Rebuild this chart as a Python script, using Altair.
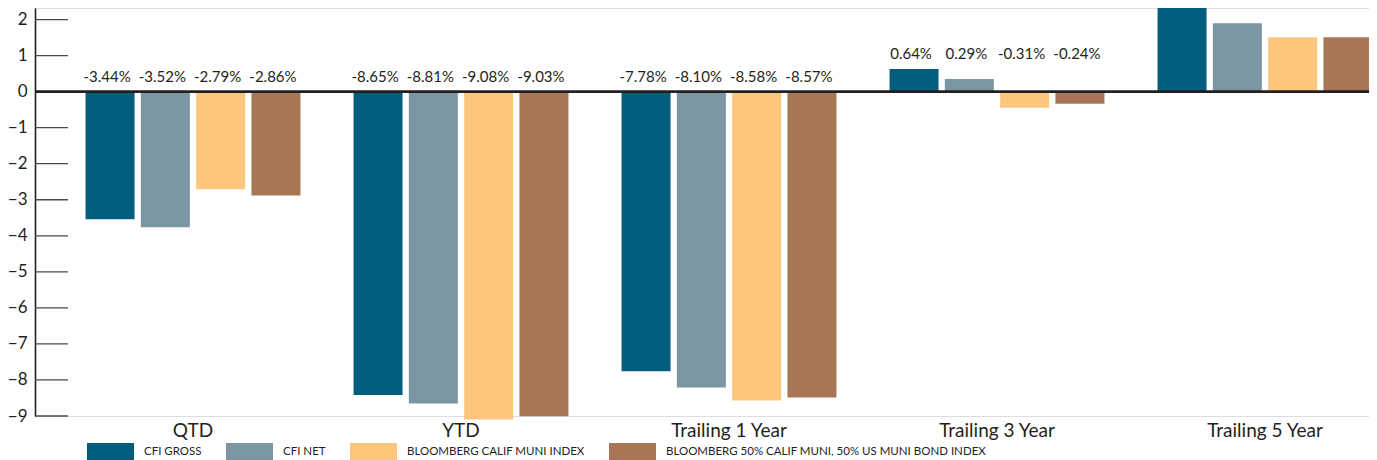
import altair as alt
import pandas as pd

categories = ["QTD", "YTD", "Trailing 1 Year", "Trailing 3 Year", "Trailing 5 Year"]
series = [
    "CFI GROSS",
    "CFI NET",
    "BLOOMBERG CALIF MUNI INDEX",
    "BLOOMBERG 50% CALIF MUNI, 50% US MUNI BOND INDEX",
]
# bar heights as drawn in the reference
cfi_gross = [-3.54, -8.42, -7.76, 0.63, 2.35]
cfi_net = [-3.76, -8.65, -8.21, 0.35, 1.90]
calif_muni = [-2.71, -9.10, -8.57, -0.45, 1.51]
mix_muni = [-2.88, -9.01, -8.49, -0.34, 1.51]
# printed labels
labels_gross = ["-3.44%", "-8.65%", "-7.78%", "0.64%", "2.26%"]
labels_net = ["-3.52%", "-8.81%", "-8.10%", "0.29%", "1.82%"]
labels_calif = ["-2.79%", "-9.08%", "-8.58%", "-0.31%", "1.42%"]
labels_mix = ["-2.86%", "-9.03%", "-8.57%", "-0.24%", "1.47%"]
colors = ["#025e7c", "#7996a2", "#fcc77c", "#a87555"]
y_ticks = [-9, -8, -7, -6, -5, -4, -3, -2, -1, 0, 1, 2]

rows = []
for s, vals, labs in zip(series,
                         [cfi_gross, cfi_net, calif_muni, mix_muni],
                         [labels_gross, labels_net, labels_calif, labels_mix]):
    for c, v, l in zip(categories, vals, labs):
        rows.append({"category": c, "series": s, "value": v, "label": l})
df = pd.DataFrame(rows)
df["label_y"] = df.groupby("category")["value"].transform("max").clip(lower=0)

FONT = "Lato"
TXT = "#231f20"
W, H = 1334, 408

x_enc = alt.X(
    "category:N", sort=categories,
    scale=alt.Scale(domain=categories, range=[24, 1364], paddingInner=0, paddingOuter=0),
    axis=alt.Axis(title=None, domain=False, ticks=False, labelAngle=0, labelFontSize=19,
                  labelFont=FONT, labelColor=TXT, labelPadding=5, labelOverlap=False),
)
xoff_enc = alt.XOffset(
    "series:N", sort=series,
    scale=alt.Scale(domain=series, paddingInner=0.114, paddingOuter=0.48),
)
y_scale = alt.Scale(domain=[-9, 2.32], nice=False, zero=False)
y_axis = alt.Axis(title=None, values=y_ticks, ticks=False, grid=False, domain=True,
                  domainColor=TXT, domainWidth=1.6, labelFontSize=17, labelFont=FONT,
                  labelColor=TXT, labelPadding=8, labelOverlap=False)

base = alt.Chart(df)

bars = base.mark_bar().encode(
    x=x_enc,
    xOffset=xoff_enc,
    y=alt.Y("value:Q", scale=y_scale, axis=y_axis),
    color=alt.Color(
        "series:N", sort=series,
        scale=alt.Scale(domain=series, range=colors),
        legend=alt.Legend(
            title=None, orient="none", legendX=52, legendY=420, direction="horizontal",
            symbolType="M-1,-0.36H1V0.36H-1Z", symbolSize=2209, symbolStrokeWidth=0,
            symbolOpacity=1, labelOffset=10, columnPadding=24, labelFontSize=11.5,
            labelFont=FONT, labelColor=TXT, labelLimit=0, padding=0,
        ),
    ),
)

texts = base.mark_text(baseline="bottom", dy=-7, dx=-3, fontSize=15, font=FONT, color=TXT).encode(
    x=x_enc,
    xOffset=xoff_enc,
    y=alt.Y("label_y:Q", scale=y_scale, axis=y_axis),
    text="label:N",
)

ticks = alt.Chart(pd.DataFrame({"tick": y_ticks})).mark_rule(color="#4a4a4a", strokeWidth=1.3).encode(
    y=alt.Y("tick:Q", scale=y_scale, axis=y_axis),
    x=alt.value(0),
    x2=alt.value(33),
)

zero = alt.Chart(pd.DataFrame({"zero": [0]})).mark_rule(color=TXT, strokeWidth=2.6).encode(
    y=alt.Y("zero:Q", scale=y_scale, axis=y_axis),
    x=alt.value(0),
    x2=alt.value(W),
)

chart = alt.layer(bars, ticks, texts, zero).properties(
    width=W, height=H,
    autosize=alt.AutoSizeParams(type="none"),
    padding={"left": 27, "top": 0, "right": 0, "bottom": 44},
).configure_view(stroke=None).configure(background="white")

chart.save("out.html", embed_options={"renderer": "svg", "actions": False})
